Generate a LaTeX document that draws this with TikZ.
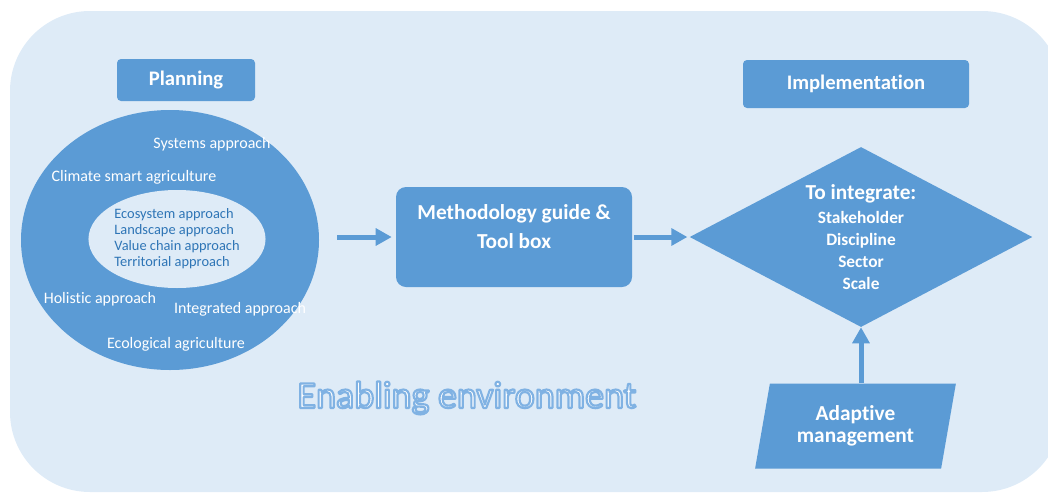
\documentclass[tikz,border=0pt]{standalone}
\usepackage{fontspec}
\setmainfont{Carlito}[Ligatures=NoCommon]
\usepackage{tikz}
\usetikzlibrary{arrows.meta}
\usetikzlibrary{positioning}
\usetikzlibrary{shapes.geometric}
\definecolor{boxblue}{HTML}{5B9BD5}
\definecolor{paleblue}{HTML}{DEEBF7}
\definecolor{innerblue}{HTML}{2E75B6}
% outlined text: white fill, blue stroke
\newcommand{\outlinetext}[1]{\special{pdf:code 0.50 0.70 0.89 RG 1.6 w 1 j 2 Tr}#1\special{pdf:code 0 Tr}}

\begin{document}
\begin{tikzpicture}[x=0.75pt, y=-0.75pt, % pixel units, y downwards
    box/.style={fill=boxblue, rectangle, rounded corners=3pt, text=white, font=\bfseries\fontsize{15.5}{18}\selectfont},
    approach/.style={text=white, font=\fontsize{12}{14}\selectfont},
    flow/.style={draw=boxblue, line width=3.75pt, -{Triangle[length=12pt, width=12.5pt]}}]

    % Background
    \useasboundingbox (0,0) rectangle (1048,493);
    \clip (0,0) rectangle (1048,493);
    \fill [paleblue, rounded corners=60pt] (10,11) rectangle (1062,492);

    % Headers
    \node [box, minimum width=103.5pt, minimum height=31.5pt] (planning) at (186,80) {Planning};
    \node [box, minimum width=169.5pt, minimum height=36pt] (implementation) at (856,84) {Implementation};

    % Planning ellipses
    \node [ellipse, fill=boxblue, minimum width=223.5pt, minimum height=195pt, inner sep=0] (outer) at (170,240) {};
    \node [ellipse, fill=paleblue, minimum width=130pt, minimum height=73.5pt, inner sep=0, align=left, text=innerblue, font=\fontsize{10.8}{12}\selectfont] (inner) at (177,239) {Ecosystem approach\\Landscape approach\\Value chain approach\\Territorial approach};

    % Approaches around the inner ellipse
    \node [approach] (systems) at (212,144) {Systems approach};
    \node [approach] (climate) at (134,177) {Climate smart agriculture};
    \node [approach] (holistic) at (100,299) {Holistic approach};
    \node [approach] (integrated) at (240,309) {Integrated approach};
    \node [approach] (ecological) at (176,344) {Ecological agriculture};

    % Methodology
    \node [box, minimum width=177pt, minimum height=75pt, rounded corners=7.5pt] (method) at (514,237) {};
    \node [align=center, text=white, font=\bfseries\fontsize{16}{21.75}\selectfont] (methodtext) at (514,227) {Methodology guide \&\\Tool box};

    % Integration diamond
    \node [diamond, aspect=1.9, fill=boxblue, minimum width=257pt, minimum height=135pt, inner sep=0, align=center, text=white, font=\bfseries\fontsize{13}{16.5}\selectfont] (goal) at (861,237)
        {{\fontsize{16}{18}\selectfont To integrate:}\\[1pt]Stakeholder\\Discipline\\Sector\\Scale};

    % Adaptive management
    \node [trapezium, trapezium left angle=76, trapezium right angle=104, trapezium stretches=true, fill=boxblue, minimum width=150.75pt, minimum height=63.75pt, inner sep=0, align=center, text=white, font=\bfseries\fontsize{16}{16.5}\selectfont] (adapt) at (855.5,426) {Adaptive\\management};

    % Enabling environment
    \node [text=white, font=\fontsize{28.5}{30}\selectfont] (enabling) at (467,398) {\outlinetext{Enabling environment}};

    % Connections (Arrows)
    \draw [flow, shorten <=13.5pt, shorten >=3pt] (outer.east |- method.west) -- (method.west);
    \draw [flow, shorten <=1pt, shorten >=1.5pt] (method.east) -- (goal.west);
    \draw [flow] (adapt.north -| goal.south) -- (goal.south);

\end{tikzpicture}
\end{document}
